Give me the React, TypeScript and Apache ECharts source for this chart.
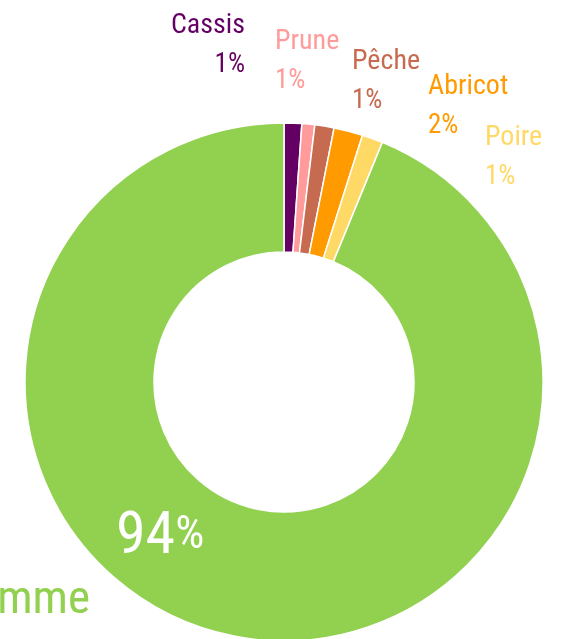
import React, { useEffect, useRef } from "react";
import * as echarts from "echarts";

const categories = ["Cassis", "Prune", "Pêche", "Abricot", "Poire", "Pomme"];
const values = [1.1, 0.8, 1.2, 1.8, 1.3, 93.8];
const colors = ["#640064", "#ff9b9b", "#c66a50", "#ff9a00", "#ffd966", "#92d050"];

const FONT = "'Roboto Condensed', 'DejaVu Sans Condensed', sans-serif";

// label placement (offsets relative to pie center)
const CX = 284;
const CY = 382;
const labelSpots = [
  { dx: -39, dy: -339, align: "right" },
  { dx: -9, dy: -323, align: "left" },
  { dx: 68, dy: -303, align: "left" },
  { dx: 144, dy: -278, align: "left" },
  { dx: 201, dy: -227, align: "left" },
  { dx: -194, dy: 214, align: "right" },
];

export default function App() {
  const ref = useRef<HTMLDivElement>(null);
  useEffect(() => {
    if (!ref.current) return;
    const chart = echarts.init(ref.current, null, { renderer: "svg" });
    const data = categories.map((name, i) => ({
      name,
      value: values[i],
      itemStyle: { color: colors[i] },
    }));
    chart.setOption({
      animation: false,
      series: [
        {
          type: "pie",
          center: [CX, CY],
          radius: [130, 259],
          startAngle: 90,
          clockwise: true,
          avoidLabelOverlap: false,
          itemStyle: { borderColor: "#ffffff", borderWidth: 1.5 },
          data: data.map((d, i) => ({
            ...d,
            label:
              i === 5
                ? {
                    formatter: "{n|{b}}",
                    rich: {
                      n: { fontSize: 47, fontFamily: FONT, color: colors[i] },
                    },
                  }
                : {
                    formatter: (p: any) => `{n|${p.name}}\n{v|${Math.round(p.percent)}%}`,
                    rich: {
                      n: { fontSize: 28, lineHeight: 39, fontFamily: FONT, color: colors[i] },
                      v: { fontSize: 27, lineHeight: 39, fontFamily: FONT, color: colors[i] },
                    },
                  },
          })),
          label: { show: true, position: "outside" },
          labelLine: { show: false },
          labelLayout: (p: any) => {
            const s = labelSpots[p.dataIndex];
            return { x: CX + s.dx, y: CY + s.dy, align: s.align, verticalAlign: "middle" };
          },
          emphasis: { disabled: true },
        },
        {
          type: "pie",
          center: [CX, CY],
          radius: [130, 259],
          startAngle: 90,
          silent: true,
          z: 5,
          itemStyle: { color: "rgba(0,0,0,0)" },
          data: data.map((d, i) => ({
            name: d.name,
            value: d.value,
            itemStyle: { color: "rgba(0,0,0,0)" },
            label: { show: i === 5 },
          })),
          label: {
            position: "inside",
            formatter: (p: any) => `{a|${Math.round(p.percent)}}{b|%}`,
            rich: {
              a: { fontSize: 60, fontFamily: FONT, color: "#ffffff" },
              b: { fontSize: 46, fontFamily: FONT, color: "#ffffff" },
            },
          },
          labelLine: { show: false },
          labelLayout: () => ({ x: CX - 168, y: CY + 150, align: "left", verticalAlign: "middle" }),
          emphasis: { disabled: true },
        },
      ],
    });
    return () => chart.dispose();
  }, []);
  return (
    <div
      ref={ref}
      style={{ position: "fixed", left: 0, top: 0, width: 561, height: 639 }}
    />
  );
}
